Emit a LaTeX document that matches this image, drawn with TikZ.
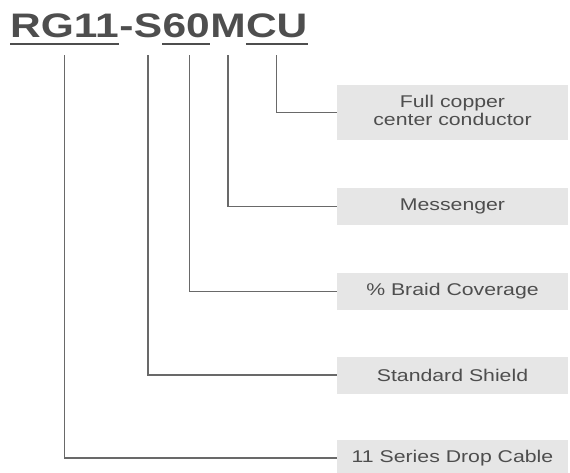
\documentclass[tikz,border=0pt]{standalone}
\usepackage{fontspec}
\setmainfont{Liberation Sans}
\usepackage{graphicx}
\usetikzlibrary{positioning,calc}
\definecolor{inkgray}{RGB}{78,78,78}
\definecolor{linegray}{RGB}{105,105,105}
\definecolor{boxgray}{RGB}{230,230,230}
\newcommand{\wide}[1]{\scalebox{1.25}[1]{#1}}

\begin{document}
\begin{tikzpicture}[x=1pt,y=-1pt,
    part/.style={inner sep=0pt, anchor=base west, text=inkgray, font=\fontsize{34}{34}\selectfont\bfseries},
    tag/.style={fill=boxgray, minimum width=231pt, minimum height=37pt, inner sep=0pt, text=inkgray, font=\fontsize{17}{18}\selectfont},
    lead/.style={draw=linegray, line width=1.2pt},
    uline/.style={draw=inkgray, line width=2.5pt}]
    \useasboundingbox (0,0) rectangle (570,472);

    % part number, split so each piece can be pointed at
    \node[part] (rg) at (10,37) {\wide{RG11}};
    \node[part] (dash) at (rg.base east) {\wide{-}};
    \node[part] (s) at (dash.base east) {\wide{S}};
    \node[part] (sixty) at (s.base east) {\wide{60}};
    \node[part] (m) at (sixty.base east) {\wide{M}};
    \node[part] (cu) at (m.base east) {\wide{CU}};

    \draw[uline] ([yshift=-7pt]rg.base west) -- ([yshift=-7pt]rg.base east);
    \draw[uline] ([yshift=-7pt]sixty.base west) -- ([yshift=-7pt]sixty.base east);
    \draw[uline] ([yshift=-7pt]cu.base west) -- ([yshift=-7pt]cu.base east);

    \node[tag, minimum height=55pt] (copper) at (452.5,112.5) {\wide{\begin{tabular}{@{}c@{}}Full copper\\center conductor\end{tabular}}};
    \node[tag] (messenger) at (452.5,206.5) {\wide{Messenger}};
    \node[tag] (braid) at (452.5,291.5) {\wide{\% Braid Coverage}};
    \node[tag] (shield) at (452.5,375) {\wide{Standard Shield}};
    \node[tag] (series) at (452.5,458) {\wide{11 Series Drop Cable}};

    \draw[lead] ([yshift=-18pt]cu.base) |- (copper.west);
    \draw[lead] ([yshift=-18pt]m.base) |- (messenger.west);
    \draw[lead] ([xshift=3pt,yshift=-18pt]sixty.base) |- (braid.west);
    \draw[lead] ([yshift=-18pt]s.base) |- (shield.west);
    \draw[lead] ([yshift=-18pt]rg.base) |- (series.west);
\end{tikzpicture}
\end{document}
